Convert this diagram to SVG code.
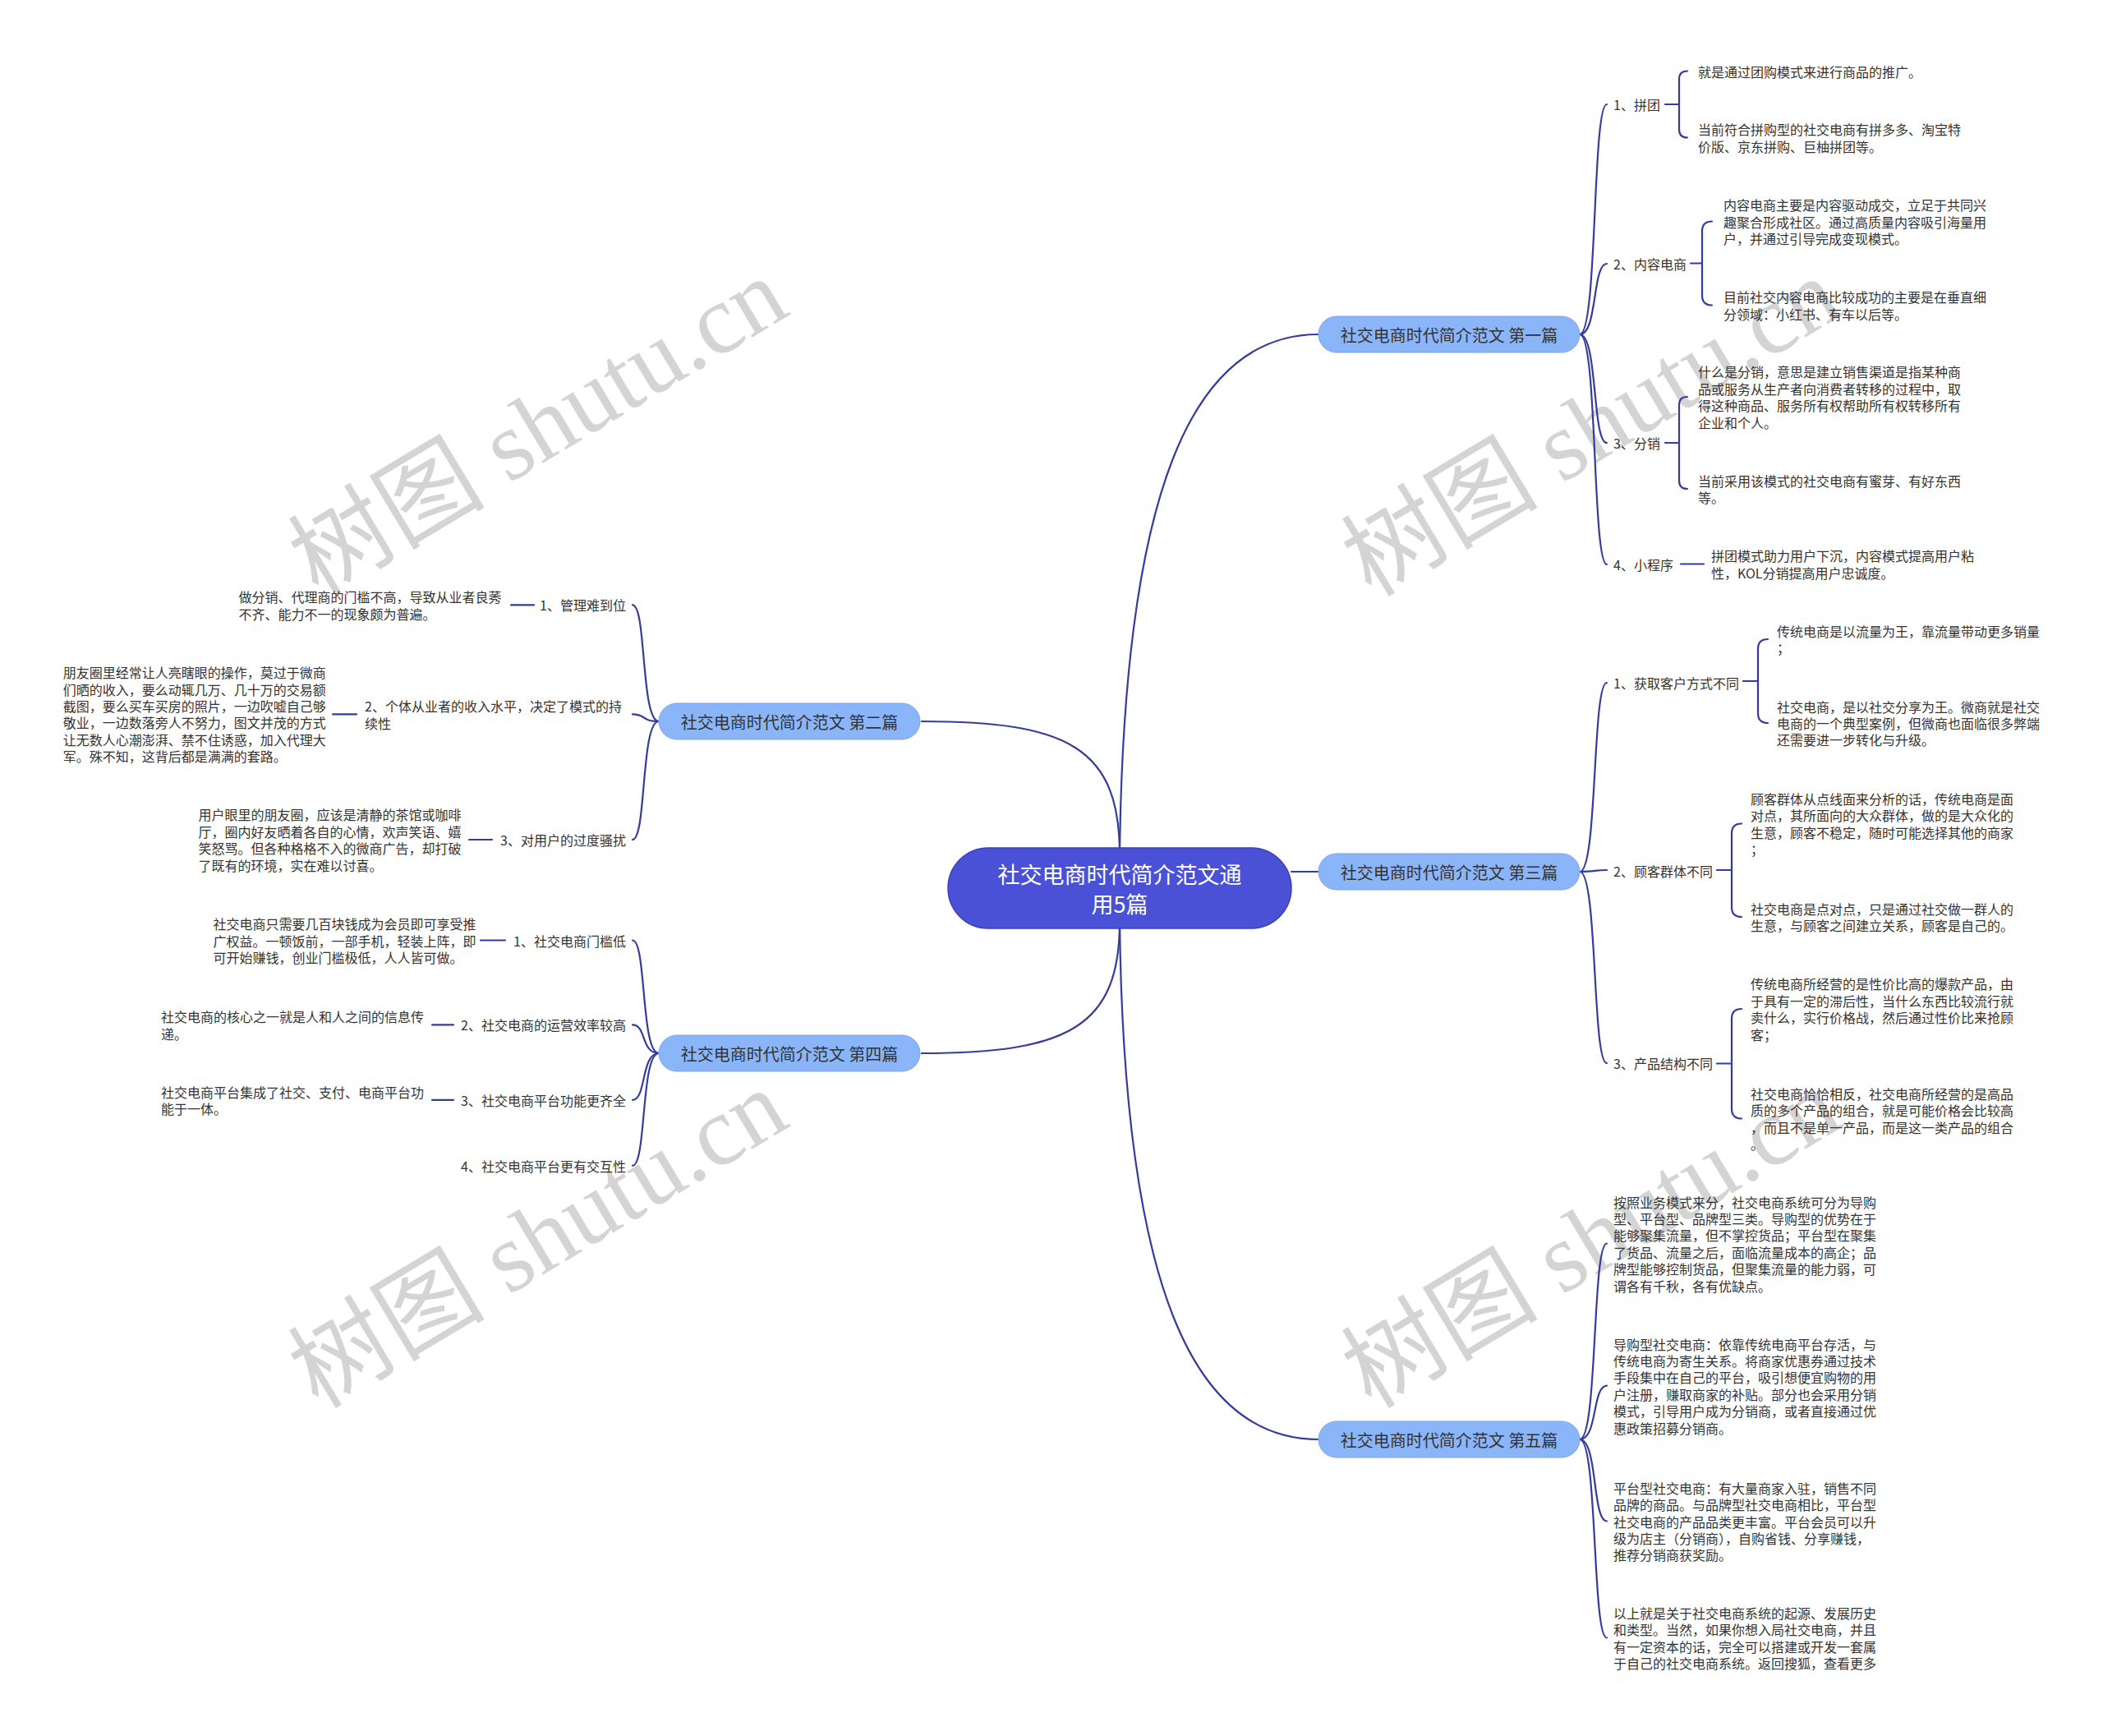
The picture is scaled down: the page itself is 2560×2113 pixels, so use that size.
<svg xmlns="http://www.w3.org/2000/svg" width="2560" height="2113" viewBox="0 0 2560 2113">
<style>
text{font-family:"Noto Sans CJK SC","Noto Sans",sans-serif;dominant-baseline:central}
.t{font-size:16px;fill:#333}
.r{text-anchor:end}
.b{font-size:20px;fill:#333;text-anchor:middle}
.c{font-size:27px;fill:#fff;text-anchor:middle}
.ln{fill:none;stroke:#343c9e;stroke-width:2.2;stroke-linecap:round}
.bn{fill:#8bb5f9;stroke:#7aa5ee;stroke-width:1}
.wm{font-family:"Liberation Serif","Noto Sans CJK SC",serif;font-size:120px;fill:#d4d4d4;text-anchor:middle}
</style>
<rect width="2560" height="2113" fill="#fff"/>
<g id="watermarks">
<text class="wm" transform="translate(655,520) rotate(-31)">树图 shutu.cn</text>
<text class="wm" transform="translate(1937,520) rotate(-31)">树图 shutu.cn</text>
<text class="wm" transform="translate(655,1508) rotate(-31)">树图 shutu.cn</text>
<text class="wm" transform="translate(1937,1508) rotate(-31)">树图 shutu.cn</text>
</g>
<g id="connectors">
<path class="ln" d="M1363 1040 C1368 600 1450 407 1605 407"/>
<path class="ln" d="M1363 1040 C1363 910 1300 878 1122 878"/>
<path class="ln" d="M1572 1061 H1605"/>
<path class="ln" d="M1363 1122 C1363 1250 1300 1282 1122 1282"/>
<path class="ln" d="M1363 1122 C1368 1560 1450 1752 1605 1752"/>
<path class="ln" d="M1923 407 C1945 407 1938 127 1956 127"/>
<path class="ln" d="M1923 407 C1945 407 1938 321 1956 321"/>
<path class="ln" d="M1923 407 C1945 407 1938 539 1956 539"/>
<path class="ln" d="M1923 407 C1945 407 1938 687 1956 687"/>
<path class="ln" d="M2027 127 H2044 M2054 86.5 Q2044 86.5 2044 96.5 V157.5 Q2044 167.5 2054 167.5"/>
<path class="ln" d="M2058 320.5 H2072 M2084 269.5 Q2072 269.5 2072 281.5 V359.5 Q2072 371.5 2084 371.5"/>
<path class="ln" d="M2027 539 H2044 M2054 483 Q2044 483 2044 493 V585 Q2044 595 2054 595"/>
<path class="ln" d="M2046 686.5 H2074"/>
<path class="ln" d="M1923 1061 C1945 1061 1938 831 1956 831"/>
<path class="ln" d="M1923 1061 C1945 1061 1938 1059 1956 1059"/>
<path class="ln" d="M1923 1061 C1945 1061 1938 1294 1956 1294"/>
<path class="ln" d="M2122 829 H2140 M2152 778 Q2140 778 2140 790 V868 Q2140 880 2152 880"/>
<path class="ln" d="M2090 1059 H2108 M2120 1002.5 Q2108 1002.5 2108 1014.5 V1104 Q2108 1116 2120 1116"/>
<path class="ln" d="M2090 1294.5 H2108 M2120 1228 Q2108 1228 2108 1240 V1349.5 Q2108 1361.5 2120 1361.5"/>
<path class="ln" d="M1923 1752 C1945 1752 1938 1513.5 1956 1513.5"/>
<path class="ln" d="M1923 1752 C1945 1752 1938 1686.6 1956 1686.6"/>
<path class="ln" d="M1923 1752 C1945 1752 1938 1851.5 1956 1851.5"/>
<path class="ln" d="M1923 1752 C1945 1752 1938 1993.5 1956 1993.5"/>
<path class="ln" d="M802 878 C780 878 787 736.4 770 736.4"/>
<path class="ln" d="M802 878 C780 878 787 869.3 770 869.3"/>
<path class="ln" d="M802 878 C780 878 787 1022 770 1022"/>
<path class="ln" d="M622 736.4 H650"/>
<path class="ln" d="M405 869.3 H434"/>
<path class="ln" d="M571 1022 H599"/>
<path class="ln" d="M802 1282 C780 1282 787 1144.5 770 1144.5"/>
<path class="ln" d="M802 1282 C780 1282 787 1247.4 770 1247.4"/>
<path class="ln" d="M802 1282 C780 1282 787 1338.8 770 1338.8"/>
<path class="ln" d="M802 1282 C780 1282 787 1418.8 770 1418.8"/>
<path class="ln" d="M585 1144.5 H615"/>
<path class="ln" d="M526 1247.4 H552"/>
<path class="ln" d="M526 1338.8 H552"/>
</g>
<g id="root">
<rect x="1154" y="1032" width="418" height="98" rx="49" fill="#4a51d6" stroke="#3b42b8" stroke-width="1.5"/>
<text class="c" x="1363" y="1063">社交电商时代简介范文通</text>
<text class="c" x="1363" y="1099">用5篇</text>
</g>
<g id="b1">
<rect class="bn" x="1605" y="385" width="318" height="44" rx="22"/>
<text class="b" x="1764" y="407">社交电商时代简介范文 第一篇</text>
</g>
<g id="b2">
<rect class="bn" x="802" y="856" width="318" height="44" rx="22"/>
<text class="b" x="961" y="878">社交电商时代简介范文 第二篇</text>
</g>
<g id="b3">
<rect class="bn" x="1605" y="1039" width="318" height="44" rx="22"/>
<text class="b" x="1764" y="1061">社交电商时代简介范文 第三篇</text>
</g>
<g id="b4">
<rect class="bn" x="802" y="1260" width="318" height="44" rx="22"/>
<text class="b" x="961" y="1282">社交电商时代简介范文 第四篇</text>
</g>
<g id="b5">
<rect class="bn" x="1605" y="1730" width="318" height="44" rx="22"/>
<text class="b" x="1764" y="1752">社交电商时代简介范文 第五篇</text>
</g>
<g id="b1-children">
<text class="t" x="1964" y="127">1、拼团</text>
<text class="t" x="2067" y="86.5">就是通过团购模式来进行商品的推广。</text>
<text class="t" x="2067"><tspan x="2067" y="157">当前符合拼购型的社交电商有拼多多、淘宝特</tspan><tspan x="2067" y="177.5">价版、京东拼购、巨柚拼团等。</tspan></text>
<text class="t" x="1964" y="321">2、内容电商</text>
<text class="t"><tspan x="2098" y="249">内容电商主要是内容驱动成交，立足于共同兴</tspan><tspan x="2098" y="269.5">趣聚合形成社区。通过高质量内容吸引海量用</tspan><tspan x="2098" y="290">户，并通过引导完成变现模式。</tspan></text>
<text class="t"><tspan x="2098" y="361">目前社交内容电商比较成功的主要是在垂直细</tspan><tspan x="2098" y="381.5">分领域：小红书、有车以后等。</tspan></text>
<text class="t" x="1964" y="539">3、分销</text>
<text class="t"><tspan x="2067" y="452.25">什么是分销，意思是建立销售渠道是指某种商</tspan><tspan x="2067" y="472.75">品或服务从生产者向消费者转移的过程中，取</tspan><tspan x="2067" y="493.25">得这种商品、服务所有权帮助所有权转移所有</tspan><tspan x="2067" y="513.75">企业和个人。</tspan></text>
<text class="t"><tspan x="2067" y="584.75">当前采用该模式的社交电商有蜜芽、有好东西</tspan><tspan x="2067" y="605.25">等。</tspan></text>
<text class="t" x="1964" y="686.5">4、小程序</text>
<text class="t"><tspan x="2083" y="676.25">拼团模式助力用户下沉，内容模式提高用户粘</tspan><tspan x="2083" y="696.75">性，KOL分销提高用户忠诚度。</tspan></text>
</g>
<g id="b3-children">
<text class="t" x="1964" y="831">1、获取客户方式不同</text>
<text class="t"><tspan x="2163" y="767.75">传统电商是以流量为王，靠流量带动更多销量</tspan><tspan x="2163" y="788.25">；</tspan></text>
<text class="t"><tspan x="2163" y="859.6">社交电商，是以社交分享为王。微商就是社交</tspan><tspan x="2163" y="880">电商的一个典型案例，但微商也面临很多弊端</tspan><tspan x="2163" y="900.4">还需要进一步转化与升级。</tspan></text>
<text class="t" x="1964" y="1059.5">2、顾客群体不同</text>
<text class="t"><tspan x="2131" y="971.9">顾客群体从点线面来分析的话，传统电商是面</tspan><tspan x="2131" y="992.3">对点，其所面向的大众群体，做的是大众化的</tspan><tspan x="2131" y="1012.7">生意，顾客不稳定，随时可能选择其他的商家</tspan><tspan x="2131" y="1033.1">；</tspan></text>
<text class="t"><tspan x="2131" y="1105.8">社交电商是点对点，只是通过社交做一群人的</tspan><tspan x="2131" y="1126.2">生意，与顾客之间建立关系，顾客是自己的。</tspan></text>
<text class="t" x="1964" y="1293.5">3、产品结构不同</text>
<text class="t"><tspan x="2131" y="1197.4">传统电商所经营的是性价比高的爆款产品，由</tspan><tspan x="2131" y="1217.8">于具有一定的滞后性，当什么东西比较流行就</tspan><tspan x="2131" y="1238.2">卖什么，实行价格战，然后通过性价比来抢顾</tspan><tspan x="2131" y="1258.6">客；</tspan></text>
<text class="t"><tspan x="2131" y="1330.9">社交电商恰恰相反，社交电商所经营的是高品</tspan><tspan x="2131" y="1351.3">质的多个产品的组合，就是可能价格会比较高</tspan><tspan x="2131" y="1371.7">，而且不是单一产品，而是这一类产品的组合</tspan><tspan x="2131" y="1392.1">。</tspan></text>
</g>
<g id="b5-children">
<text class="t"><tspan x="1964" y="1462.5">按照业务模式来分，社交电商系统可分为导购</tspan><tspan x="1964" y="1482.9">型、平台型、品牌型三类。导购型的优势在于</tspan><tspan x="1964" y="1503.3">能够聚集流量，但不掌控货品；平台型在聚集</tspan><tspan x="1964" y="1523.7">了货品、流量之后，面临流量成本的高企；品</tspan><tspan x="1964" y="1544.1">牌型能够控制货品，但聚集流量的能力弱，可</tspan><tspan x="1964" y="1564.5">谓各有千秋，各有优缺点。</tspan></text>
<text class="t"><tspan x="1964" y="1635.6">导购型社交电商：依靠传统电商平台存活，与</tspan><tspan x="1964" y="1656">传统电商为寄生关系。将商家优惠券通过技术</tspan><tspan x="1964" y="1676.4">手段集中在自己的平台，吸引想便宜购物的用</tspan><tspan x="1964" y="1696.8">户注册，赚取商家的补贴。部分也会采用分销</tspan><tspan x="1964" y="1717.2">模式，引导用户成为分销商，或者直接通过优</tspan><tspan x="1964" y="1737.6">惠政策招募分销商。</tspan></text>
<text class="t"><tspan x="1964" y="1810.7">平台型社交电商：有大量商家入驻，销售不同</tspan><tspan x="1964" y="1831.1">品牌的商品。与品牌型社交电商相比，平台型</tspan><tspan x="1964" y="1851.5">社交电商的产品品类更丰富。平台会员可以升</tspan><tspan x="1964" y="1871.9">级为店主（分销商），自购省钱、分享赚钱，</tspan><tspan x="1964" y="1892.3">推荐分销商获奖励。</tspan></text>
<text class="t"><tspan x="1964" y="1962.9">以上就是关于社交电商系统的起源、发展历史</tspan><tspan x="1964" y="1983.3">和类型。当然，如果你想入局社交电商，并且</tspan><tspan x="1964" y="2003.7">有一定资本的话，完全可以搭建或开发一套属</tspan><tspan x="1964" y="2024.1">于自己的社交电商系统。返回搜狐，查看更多</tspan></text>
</g>
<g id="b2-children">
<text class="t r" x="762" y="736.4">1、管理难到位</text>
<text class="t"><tspan x="290.6" y="726.2">做分销、代理商的门槛不高，导致从业者良莠</tspan><tspan x="290.6" y="746.6">不齐、能力不一的现象颇为普遍。</tspan></text>
<text class="t"><tspan x="444" y="859">2、个体从业者的收入水平，决定了模式的持</tspan><tspan x="444" y="879.5">续性</tspan></text>
<text class="t"><tspan x="76.7" y="818.25">朋友圈里经常让人亮瞎眼的操作，莫过于微商</tspan><tspan x="76.7" y="838.65">们晒的收入，要么动辄几万、几十万的交易额</tspan><tspan x="76.7" y="859.05">截图，要么买车买房的照片，一边吹嘘自己够</tspan><tspan x="76.7" y="879.45">敬业，一边数落旁人不努力，图文并茂的方式</tspan><tspan x="76.7" y="899.85">让无数人心潮澎湃、禁不住诱惑，加入代理大</tspan><tspan x="76.7" y="920.25">军。殊不知，这背后都是满满的套路。</tspan></text>
<text class="t r" x="762" y="1022">3、对用户的过度骚扰</text>
<text class="t"><tspan x="241.6" y="991.4">用户眼里的朋友圈，应该是清静的茶馆或咖啡</tspan><tspan x="241.6" y="1011.8">厅，圈内好友晒着各自的心情，欢声笑语、嬉</tspan><tspan x="241.6" y="1032.2">笑怒骂。但各种格格不入的微商广告，却打破</tspan><tspan x="241.6" y="1052.6">了既有的环境，实在难以讨喜。</tspan></text>
</g>
<g id="b4-children">
<text class="t r" x="762" y="1144.5">1、社交电商门槛低</text>
<text class="t"><tspan x="259.6" y="1124.1">社交电商只需要几百块钱成为会员即可享受推</tspan><tspan x="259.6" y="1144.5">广权益。一顿饭前，一部手机，轻装上阵，即</tspan><tspan x="259.6" y="1164.9">可开始赚钱，创业门槛极低，人人皆可做。</tspan></text>
<text class="t r" x="762" y="1247.4">2、社交电商的运营效率较高</text>
<text class="t"><tspan x="196" y="1237.2">社交电商的核心之一就是人和人之间的信息传</tspan><tspan x="196" y="1257.6">递。</tspan></text>
<text class="t r" x="762" y="1338.8">3、社交电商平台功能更齐全</text>
<text class="t"><tspan x="196" y="1328.6">社交电商平台集成了社交、支付、电商平台功</tspan><tspan x="196" y="1349">能于一体。</tspan></text>
<text class="t r" x="762" y="1418.8">4、社交电商平台更有交互性</text>
</g>
</svg>
